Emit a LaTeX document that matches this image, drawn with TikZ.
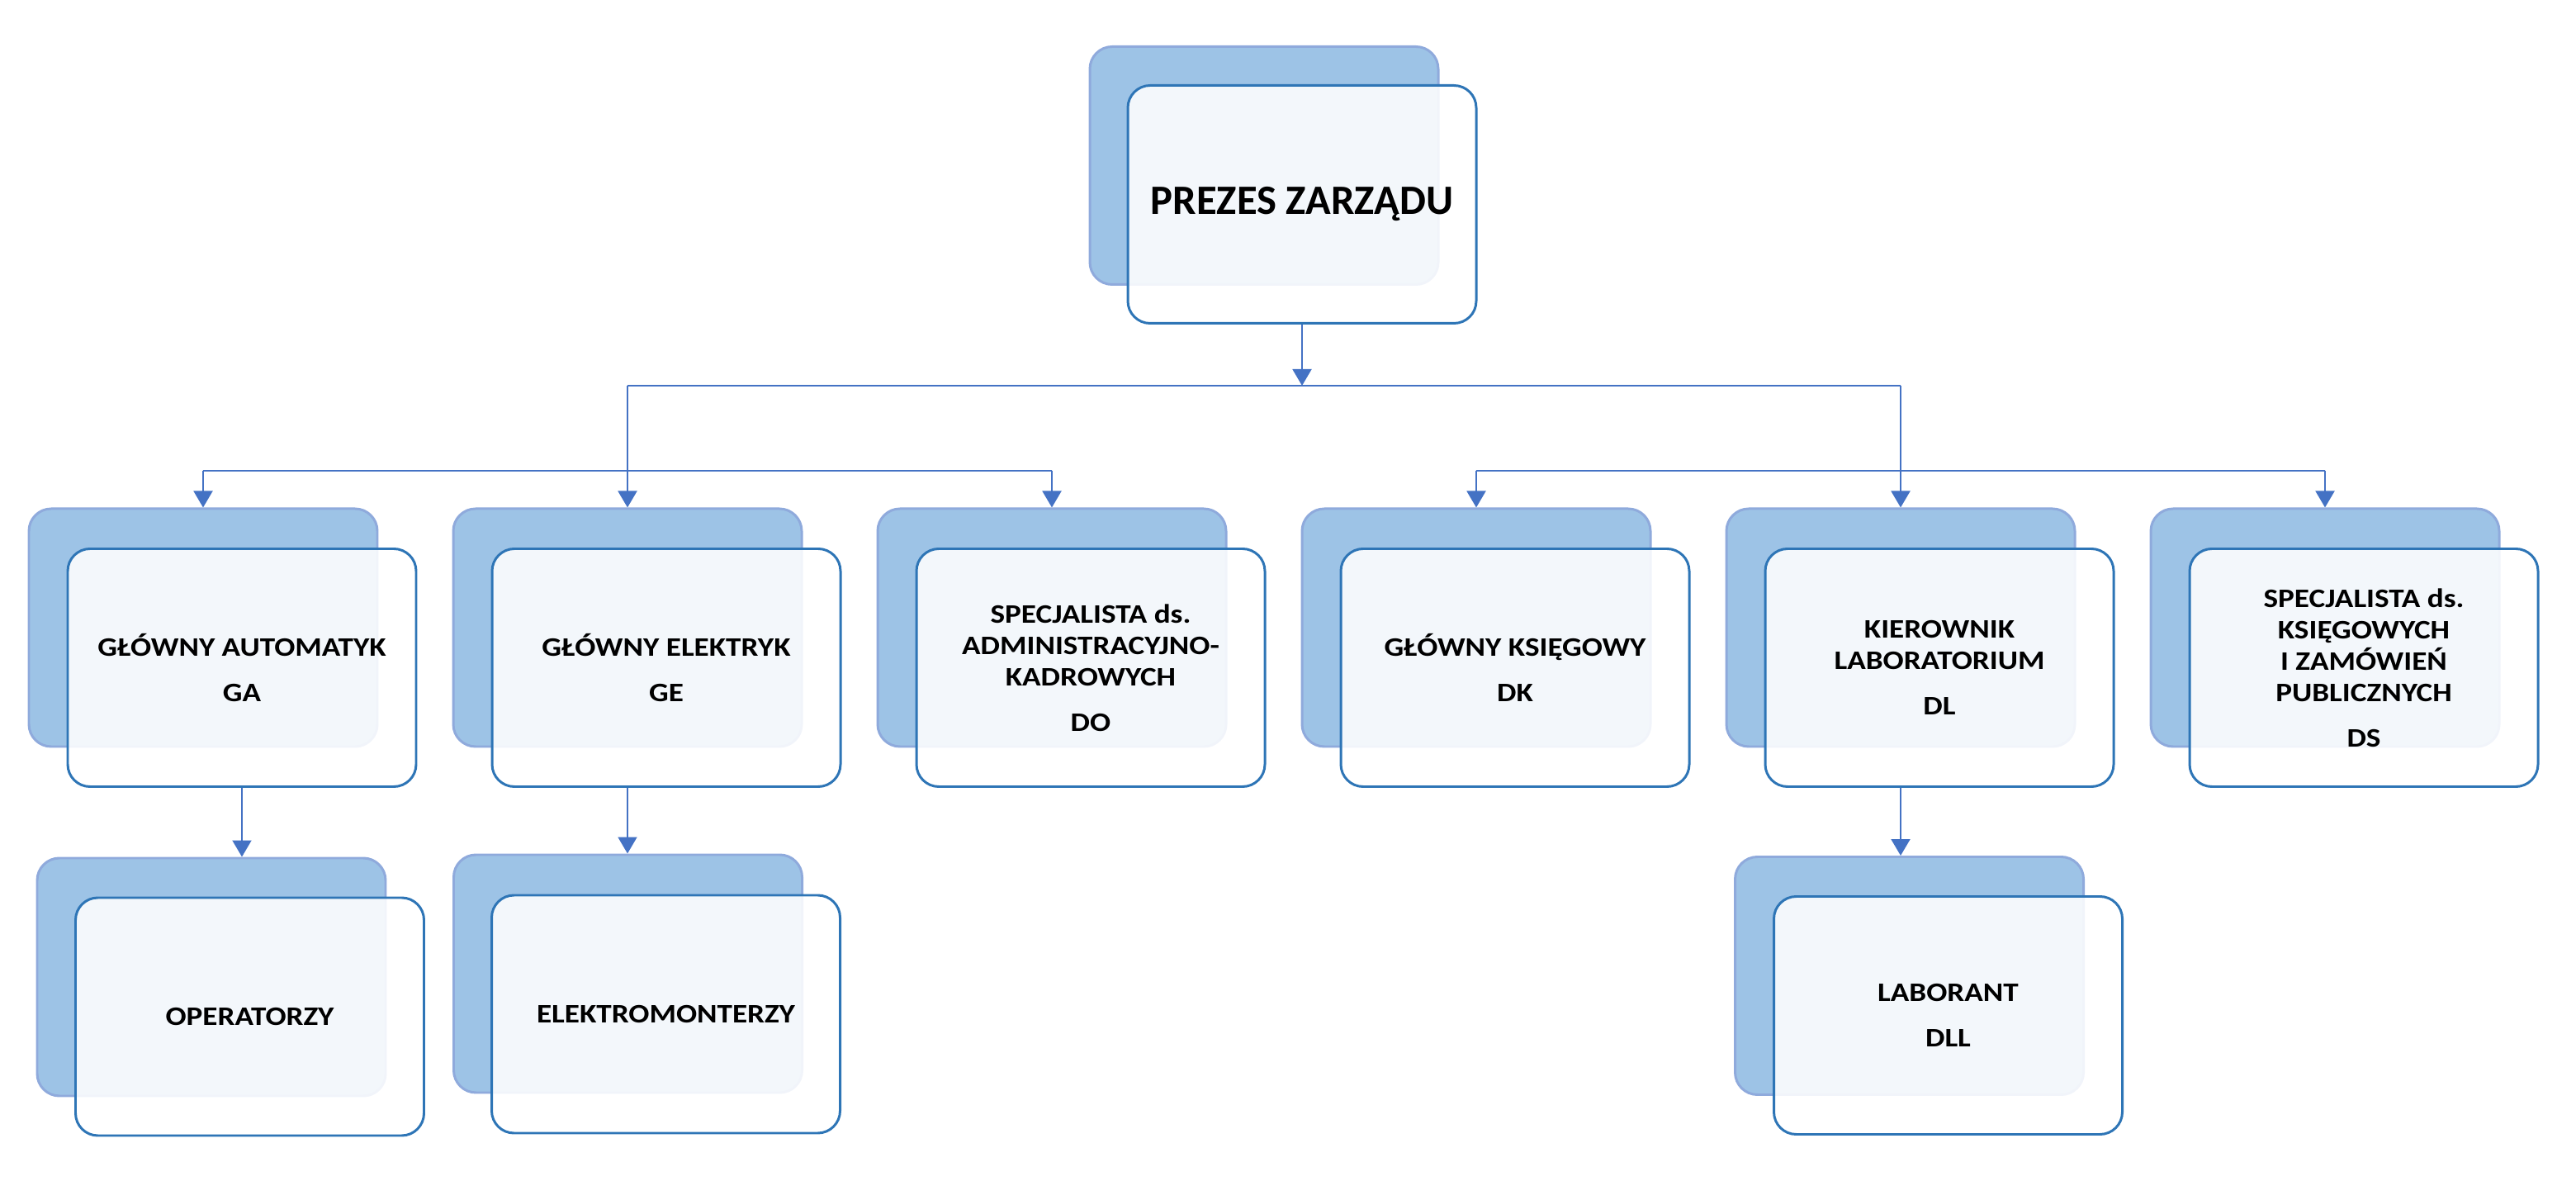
\documentclass[tikz,border=0pt]{standalone}
\usepackage{fontspec}
\setmainfont{Carlito}
\newfontfamily\widefont[FakeStretch=1.15]{Carlito}
\usetikzlibrary{arrows.meta}
\definecolor{backblue}{HTML}{9DC3E6}
\definecolor{backedge}{HTML}{8FAADC}
\definecolor{frontedge}{HTML}{2E75B6}
\definecolor{linkblue}{HTML}{4472C4}
\begin{document}
\begin{tikzpicture}[
    back/.style={draw=backedge, line width=0.85pt, fill=backblue, rounded corners=0.27cm,
      minimum width=4.22cm, minimum height=2.88cm, inner sep=0pt},
    front/.style={draw=frontedge, line width=0.85pt, fill=white, fill opacity=0.88, text opacity=1,
      rounded corners=0.27cm, minimum width=4.22cm, minimum height=2.88cm, inner sep=0pt,
      align=center, font=\widefont\fontsize{9.2pt}{10.8pt}\selectfont\bfseries},
    link/.style={draw=linkblue, line width=0.57pt},
    arr/.style={link, -{Triangle[width=0.23cm, length=0.2cm]}}]
      \useasboundingbox (0,0) rectangle (31.2,-14.3);
      % zarzad
      \node[back] (prezesb) at (15.31,-2.005) {};
      \node[front, font=\fontsize{14.4pt}{17pt}\selectfont\bfseries] (prezes) at (15.77,-2.475) {PREZES ZARZĄDU};
      % dzialy
      \node[back] (gab) at (2.46,-7.6) {};
      \node[front] (ga) at (2.93,-8.085) {GŁÓWNY AUTOMATYK\\[4.8pt]GA};
      \node[back] (geb) at (7.6,-7.6) {};
      \node[front] (ge) at (8.07,-8.085) {GŁÓWNY ELEKTRYK\\[4.8pt]GE};
      \node[back] (dob) at (12.74,-7.6) {};
      \node[front] (do) at (13.21,-8.085) {SPECJALISTA ds.\\ADMINISTRACYJNO-\\KADROWYCH\\[4.8pt]DO};
      \node[back] (dkb) at (17.88,-7.6) {};
      \node[front] (dk) at (18.35,-8.085) {GŁÓWNY KSIĘGOWY\\[4.8pt]DK};
      \node[back] (dlb) at (23.02,-7.6) {};
      \node[front] (dl) at (23.49,-8.085) {KIEROWNIK\\LABORATORIUM\\[4.8pt]DL};
      \node[back] (dsb) at (28.16,-7.6) {};
      \node[front] (ds) at (28.63,-8.085) {SPECJALISTA ds.\\KSIĘGOWYCH\\I ZAMÓWIEŃ\\PUBLICZNYCH\\[4.8pt]DS};
      % stanowiska
      \node[back] (opb) at (2.56,-11.83) {};
      \node[front] (op) at (3.025,-12.31) {OPERATORZY};
      \node[back] (emb) at (7.605,-11.79) {};
      \node[front] (em) at (8.065,-12.28) {ELEKTROMONTERZY};
      \node[back] (dllb) at (23.125,-11.815) {};
      \node[front] (dll) at (23.595,-12.295) {LABORANT\\[4.8pt]DLL};
      % polaczenia
      \coordinate (topbus) at (15.77,-4.67);
      \coordinate (lowbus) at (15.77,-5.7);
      \draw[arr] (prezes.south) -- (topbus);
      \draw[link] (geb.north |- topbus) -- (dlb.north |- topbus);
      \draw[arr] (geb.north |- topbus) -- (geb.north);
      \draw[arr] (dlb.north |- topbus) -- (dlb.north);
      \draw[link] (gab.north |- lowbus) -- (dob.north |- lowbus);
      \draw[link] (dkb.north |- lowbus) -- (dsb.north |- lowbus);
      \foreach \n in {gab,dob,dkb,dsb} \draw[arr] (\n.north |- lowbus) -- (\n.north);
      \draw[arr] (ga.south) -- (ga.south |- opb.north);
      \draw[arr] (geb.south |- ge.south) -- (geb.south |- emb.north);
      \draw[arr] (dlb.south |- dl.south) -- (dlb.south |- dllb.north);
\end{tikzpicture}
\end{document}
